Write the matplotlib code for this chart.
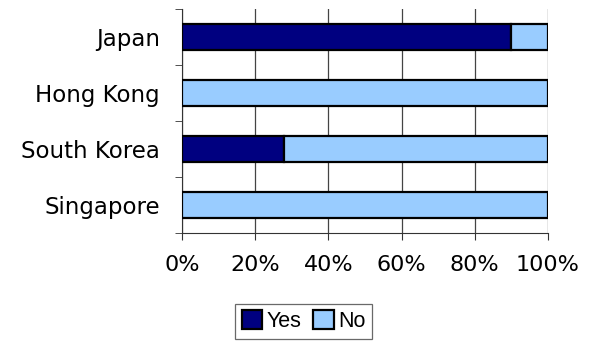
import matplotlib.pyplot as plt
import numpy as np
from matplotlib.ticker import FixedLocator, PercentFormatter

countries = ["Japan", "Hong Kong", "South Korea", "Singapore"]
yes = [0.90, 0.0, 0.28, 0.0]
no = [0.10, 1.0, 0.72, 1.0]

fig = plt.figure(figsize=(5.92, 3.41), dpi=100)
ax = fig.add_axes([182/592, 1-233/341, 366/592, 224/341])

pos = np.arange(len(countries))[::-1]
ax.barh(pos, yes, height=0.48, color="#000080", edgecolor="black", linewidth=1.6, label="Yes", zorder=3)
ax.barh(pos, no, left=yes, height=0.48, color="#99ccff", edgecolor="black", linewidth=1.6, label="No", zorder=3)

ax.set_xlim(0, 1)
ax.set_ylim(-0.5, len(countries) - 0.5)
ax.set_xticks(np.arange(0, 1.01, 0.2))
ax.xaxis.set_major_formatter(PercentFormatter(1.0, decimals=0))
ax.set_yticks(pos)
ax.set_yticklabels(countries)
ax.yaxis.set_minor_locator(FixedLocator(np.arange(-0.5, len(countries), 1)))
ax.tick_params(axis="y", which="major", length=0, labelsize=16.5, pad=16)
ax.tick_params(axis="y", which="minor", length=5, direction="out", color="#333333")
ax.tick_params(axis="x", length=5, labelsize=16, pad=11, color="#333333")
ax.grid(axis="x", color="#444444", linewidth=0.9, zorder=0)
for s in ["top", "right"]:
    ax.spines[s].set_visible(False)
for s in ["left", "bottom"]:
    ax.spines[s].set_color("#333333")

h, l = ax.get_legend_handles_labels()
leg = fig.legend(h, l, loc="upper center", bbox_to_anchor=(303.5/592, 1-304/341), ncol=2, frameon=True,
                 fancybox=False, edgecolor="#444444", prop={"family": "Liberation Sans", "size": 15.5},
                 handlelength=0.95, handleheight=0.95, handletextpad=0.2, columnspacing=0.55,
                 borderpad=0.3, borderaxespad=0)
leg.get_frame().set_linewidth(0.9)

fig.savefig("out.png", dpi=100)
